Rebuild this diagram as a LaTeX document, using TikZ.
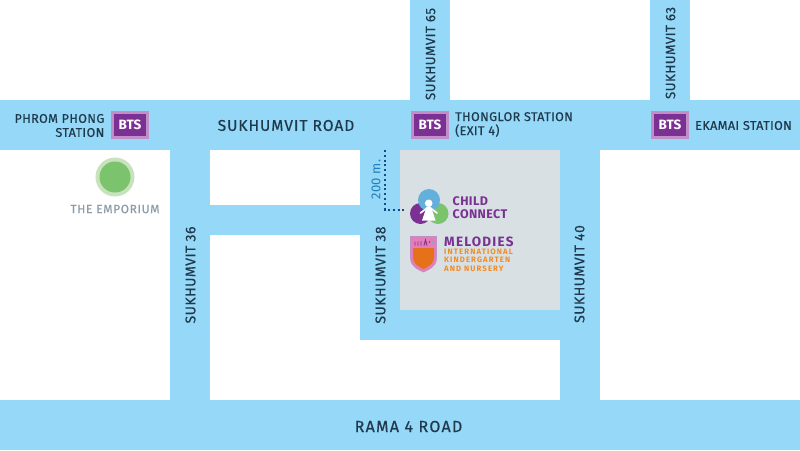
\documentclass[tikz,border=0pt]{standalone}
\usepackage{fontspec}
\setmainfont{Fira Sans}
\definecolor{road}{HTML}{96D8F8}
\definecolor{blockc}{HTML}{D8E0E3}
\definecolor{ink}{HTML}{1F3A4D}
\definecolor{btsin}{HTML}{7B3193}
\definecolor{btsout}{HTML}{C18FC8}
\definecolor{grn}{HTML}{7CC36E}
\definecolor{grnl}{HTML}{C6E3BC}
\definecolor{gtxt}{HTML}{8C9CA8}
\definecolor{dot}{HTML}{0F4C8A}
\definecolor{blu}{HTML}{1F7FB8}
\definecolor{cblue}{HTML}{62B0DB}
\definecolor{org}{HTML}{F08C28}
\definecolor{pnk}{HTML}{E57DB8}
\definecolor{orgd}{HTML}{E5711B}
\tikzset{
 roadfill/.style={fill=road,draw=none},
 roadlabel/.style={text=ink,font=\fontsize{15.6}{15}\selectfont\addfontfeature{LetterSpace=6,FakeBold=0.4},inner sep=0pt},
 ramalabel/.style={text=ink,font=\fontsize{16}{15}\selectfont\addfontfeature{LetterSpace=8,FakeBold=0.4},inner sep=0pt},
 vlabel/.style={text=ink,font=\fontsize{14.1}{14}\selectfont\addfontfeature{LetterSpace=3,FakeBold=0.4},inner sep=0pt,rotate=90},
 vlabeltop/.style={text=ink,font=\fontsize{13.4}{14}\selectfont\addfontfeature{LetterSpace=3,FakeBold=0.4},inner sep=0pt,rotate=90},
 stn/.style={text=ink,font=\fontsize{12.6}{14}\selectfont\addfontfeature{LetterSpace=3,FakeBold=0.4},inner sep=0pt},
 bts/.style={fill=btsin,draw=btsout,line width=3pt,minimum width=35pt,minimum height=25pt,inner sep=0pt,text=white,font=\fontsize{13.5}{13}\selectfont\bfseries},
}
\begin{document}
\begin{tikzpicture}[x=1pt,y=-1pt]
\useasboundingbox (0,0) rectangle (800,450);
\fill[white] (0,0) rectangle (800,450);
\fill[roadfill] (0,100) rectangle (800,150);
\fill[roadfill] (0,400) rectangle (800,450);
\fill[roadfill] (410,0) rectangle (450,100);
\fill[roadfill] (650,0) rectangle (690,100);
\fill[roadfill] (170,150) rectangle (210,400);
\fill[roadfill] (210,205) rectangle (360,235);
\fill[roadfill] (360,150) rectangle (400,340);
\fill[roadfill] (400,310) rectangle (560,340);
\fill[roadfill] (560,150) rectangle (600,400);
\fill[blockc] (400,150) rectangle (560,310);
\node[roadlabel] (sr) at (286,125.5) {SUKHUMVIT ROAD};
\node[ramalabel] (r4) at (408.5,426.5) {RAMA 4 ROAD};
\node[vlabeltop] (s65) at (430.5,54) {SUKHUMVIT 65};
\node[vlabeltop] (s63) at (670.5,53) {SUKHUMVIT 63};
\node[vlabel] (s36) at (190.5,275) {SUKHUMVIT 36};
\node[vlabel] (s38) at (380.5,275) {SUKHUMVIT 38};
\node[vlabel] (s40) at (579.5,274) {SUKHUMVIT 40};
\node[bts] (b1) at (130,125) {BTS};
\node[bts] (b2) at (430,125) {BTS};
\node[bts] (b3) at (670,125) {BTS};
\node[stn,align=right,anchor=east] (t1) at (104.5,125.5) {PHROM PHONG\\STATION};
\node[stn,align=left,anchor=west] (t2) at (455,124.5) {THONGLOR STATION\\(EXIT 4)};
\node[stn,anchor=west] (t3) at (695,125.5) {EKAMAI STATION};
\fill[grnl] (115,177) circle (19.5);
\fill[grn] (115,177) circle (15.5);
\node[text=gtxt,font=\fontsize{12}{12}\selectfont\addfontfeature{LetterSpace=5,FakeBold=0.2},inner sep=0pt] (emp) at (115,209) {THE EMPORIUM};
% 200 m marker
\coordinate (d1) at (385,150);
\coordinate (d2) at (385,209.5);
\coordinate (d3) at (405,209.5);
\draw[dot,line width=2pt,dash pattern=on 2pt off 2.8pt] (d1) -- (d2) -- (d3);
\node[text=blu,font=\fontsize{13}{13}\selectfont\addfontfeature{LetterSpace=3},rotate=90,inner sep=0pt] (m200) at (376,179.5) {200 m.};
% Child Connect logo
\fill[btsin] (420.5,213.5) circle (10.5);
\fill[grn] (438,213.5) circle (10.5);
\fill[cblue] (429,200) circle (11);
\fill[white] (428.7,203.3) circle (3.8);
\fill[white] (426.5,207) -- (431,207) -- (435.5,220.5) -- (422,220.5) -- cycle;
\draw[white,line width=1.6pt,line cap=round] (420.5,213) -- (427,208) (437,213) -- (430.5,208);
\node[text=btsin,font=\fontsize{12.5}{13.2}\selectfont\bfseries\addfontfeature{LetterSpace=3},align=left,anchor=west,inner sep=0pt] (cc) at (452.5,207.5) {CHILD\\CONNECT};
% Melodies logo
\fill[pnk,draw=btsout,line width=.6pt] (410.5,236.5) -- (436.5,236.5) -- (436.5,258) .. controls (436.5,267) and (428,270) .. (423.5,272) .. controls (419,270) and (410.5,267) .. (410.5,258) -- cycle;
\fill[orgd] (413,248) -- (434,248) -- (434,258) .. controls (434,264) and (427,267.5) .. (423.5,269) .. controls (420,267.5) and (413,264) .. (413,258) -- cycle;
\draw[btsin,line width=.9pt] (415,245.5) -- (415,241.5) (418,245.5) -- (418,241.5) (421,245.5) -- (421,241) (424,245.5) -- (425.5,240) -- (427,245.5);
\fill[org] (431.5,239.5) circle (1.2);
\fill[cblue] (433,242.5) circle (1.2);
\fill[btsin] (429.5,242) circle (.8);
\node[text=btsin,font=\fontsize{13.5}{13}\selectfont\bfseries\addfontfeature{LetterSpace=9},anchor=west,inner sep=0pt] (mel) at (444,241.5) {MELODIES};
\node[text=org,font=\fontsize{7.8}{8.6}\selectfont\bfseries\addfontfeature{LetterSpace=14},align=left,anchor=west,inner sep=0pt] (kg) at (444,260) {INTERNATIONAL\\KINDERGARTEN\\AND NURSERY};
\end{tikzpicture}
\end{document}
